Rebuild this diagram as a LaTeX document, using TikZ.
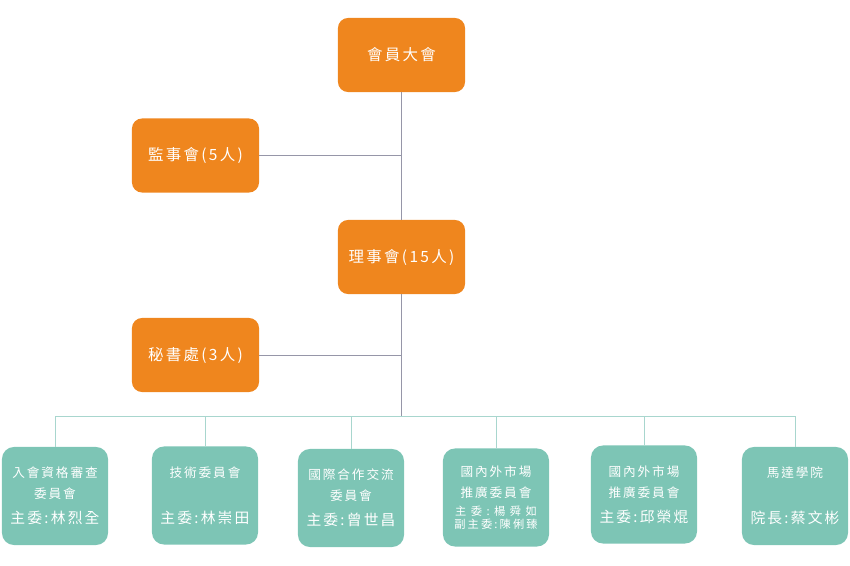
\documentclass[tikz,border=0pt]{standalone}
\usepackage{fontspec}
\usepackage{xcolor}
\newfontfamily\cjk[LetterSpace=15]{Noto Sans CJK TC}
\usetikzlibrary{positioning}
\definecolor{cOrange}{RGB}{239,134,30}
\definecolor{cTeal}{RGB}{125,197,181}
\definecolor{cTrunk}{RGB}{150,150,168}
\definecolor{cBus}{RGB}{168,214,206}
\tikzset{
	orgbox/.style ={rectangle, rounded corners=0.25cm, minimum width=3.175cm, minimum height=1.85cm, align=center, fill=cOrange, text=white, font=\cjk\fontsize{11}{13}\selectfont},
	unitbox/.style={rectangle, rounded corners=0.3cm, minimum width=2.65cm, minimum height=2.45cm, align=center, fill=cTeal, text=white, inner sep=1pt, font=\cjk\fontsize{9}{15}\selectfont},
	trunk/.style  ={draw=cTrunk, line width=0.6pt},
	bus/.style    ={draw=cBus, line width=0.6pt},
}
\newcommand{\chair}[1]{{\fontsize{10.5}{15}\selectfont #1}}
\newcommand{\vice}[2]{{\addfontfeature{LetterSpace=#1}\fontsize{8}{9}\selectfont #2}}

\begin{document}
\begin{tikzpicture}[x=0.025cm, y=-0.025cm]
	\useasboundingbox (0,0) rectangle (850,566);
	% upper levels
	\node[orgbox] (assembly) at (401.5,55) {會員大會};
	\node[orgbox] (supervisors) at (195.5,155.5) {監事會(5人)};
	\node[orgbox] (board) at (401.5,257) {理事會(15人)};
	\node[orgbox] (secretariat) at (195.5,355) {秘書處(3人)};
	\coordinate (hub) at (401.5,416);

	% committees
	\node[unitbox] (admission) at (55,496) {入會資格審查\\委員會\\[3pt]\chair{主委:林烈全}};
	\node[unitbox] (technical) at (205,495.5) {技術委員會\\[18pt]\chair{主委:林崇田}};
	\node[unitbox] (intl) at (351,498) {國際合作交流\\委員會\\[3pt]\chair{主委:曾世昌}};
	\node[unitbox] (marketa) at (496,497.5) {國內外市場\\推廣委員會\\[-2pt]\vice{40}{主委:楊舜如}\\[-6pt]\vice{19}{副主委:陳俐臻}};
	\node[unitbox] (marketb) at (644,494.5) {國內外市場\\推廣委員會\\[3pt]\chair{主委:邱榮焜}};
	\node[unitbox] (academy) at (795,496) {馬達學院\\[18pt]\chair{院長:蔡文彬}};

	% connectors
	\draw[bus] (admission.north |- hub) -- (academy.north |- hub);
	\foreach \u in {admission,technical,intl,marketa,marketb,academy}
		\draw[bus] (\u.north) -- (\u.north |- hub);
	\draw[trunk] (assembly) -- (board);
	\draw[trunk] (board) -- (hub);
	\draw[trunk] (supervisors.east) -- (supervisors.east -| assembly.south);
	\draw[trunk] (secretariat.east) -- (secretariat.east -| board.south);
\end{tikzpicture}
\end{document}
